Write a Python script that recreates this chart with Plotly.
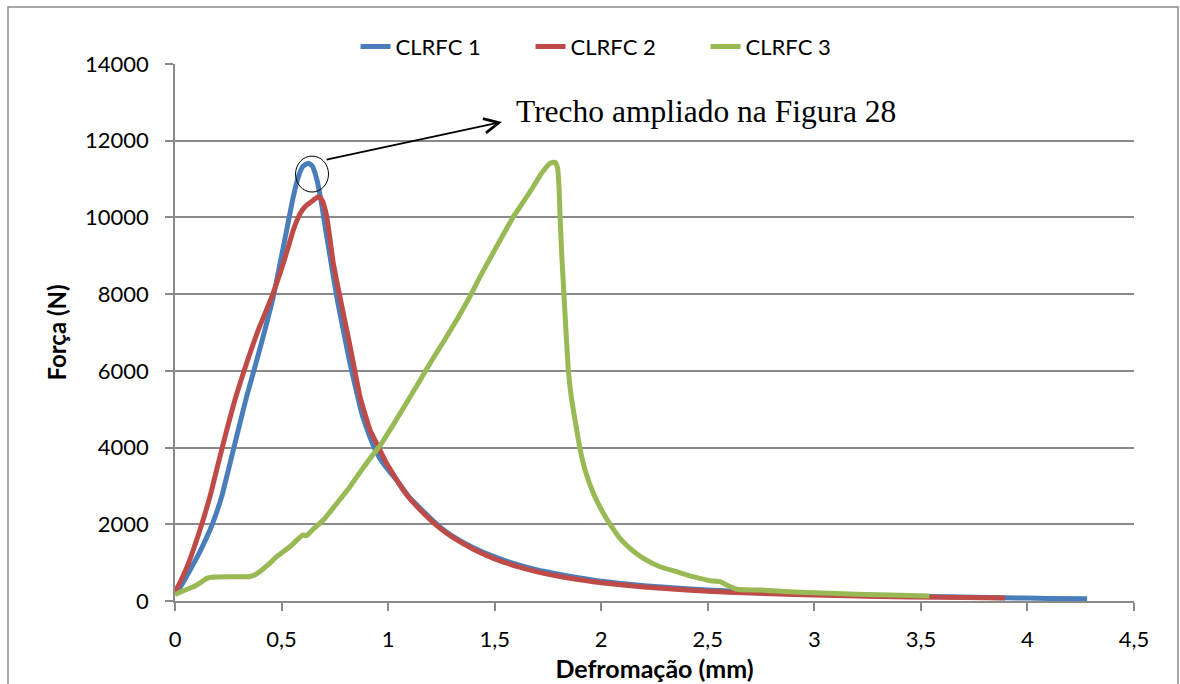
import plotly.graph_objects as go

# ---- data ----
x1 = [0, 0.016, 0.05, 0.086, 0.125, 0.164, 0.19, 0.219, 0.258, 0.297, 0.336, 0.380, 0.422, 0.461,
      0.493, 0.524, 0.555, 0.579, 0.60, 0.626, 0.645, 0.665, 0.685, 0.707, 0.733, 0.759, 0.79,
      0.821, 0.85, 0.876, 0.905, 0.931, 0.955, 0.977, 1.0, 1.05, 1.1, 1.15, 1.2, 1.25, 1.3, 1.4,
      1.5, 1.6, 1.7, 1.8, 1.9, 2.0, 2.2, 2.4, 2.6, 2.8, 3.0, 3.3, 3.6, 3.9, 4.1, 4.28]
y1 = [250, 290, 600, 960, 1380, 1850, 2230, 2720, 3590, 4460, 5330, 6200, 7070, 7930,
      8800, 9670, 10540, 11060, 11330, 11410, 11330, 11000, 10450, 9670, 8800, 7930, 7050,
      6200, 5500, 4900, 4420, 4050, 3780, 3590, 3420, 3080, 2700, 2420, 2150, 1900, 1700, 1390,
      1150, 960, 810, 700, 600, 515, 400, 320, 262, 228, 185, 140, 108, 84, 68, 58]

x2 = [0, 0.005, 0.035, 0.063, 0.09, 0.117, 0.164, 0.203, 0.243, 0.286, 0.336, 0.391, 0.454, 0.508,
      0.532, 0.555, 0.587, 0.610, 0.649, 0.673, 0.69, 0.712, 0.743, 0.775, 0.806, 0.837, 0.868,
      0.893, 0.915, 0.954, 0.993, 1.03, 1.07, 1.1, 1.15, 1.2, 1.25, 1.3, 1.4, 1.5, 1.6, 1.7, 1.8,
      1.9, 2.0, 2.2, 2.4, 2.6, 2.8, 3.0, 3.3, 3.6, 3.895]
y2 = [250, 290, 620, 980, 1400, 1850, 2720, 3590, 4460, 5330, 6200, 7070, 7930, 8800,
      9240, 9670, 10100, 10280, 10450, 10540, 10450, 10020, 8800, 7900, 7065, 6200, 5330,
      4850, 4460, 4020, 3590, 3250, 2900, 2680, 2380, 2110, 1870, 1670, 1350, 1100, 910, 760, 645,
      555, 475, 365, 285, 228, 190, 155, 120, 95, 75]

x3 = [0, 0.04, 0.086, 0.12, 0.149, 0.19, 0.25, 0.30, 0.352, 0.38, 0.399, 0.44, 0.477, 0.54, 0.600,
      0.615, 0.65, 0.696, 0.76, 0.821, 0.88, 0.946, 0.962, 1.02, 1.087, 1.14, 1.197, 1.26, 1.322,
      1.38, 1.431, 1.509, 1.588, 1.64, 1.681, 1.72, 1.76, 1.783, 1.795, 1.802, 1.807, 1.815, 1.825,
      1.835, 1.846, 1.86, 1.877, 1.90, 1.924, 1.963, 2.01, 2.049, 2.088, 2.135, 2.198, 2.276, 2.354,
      2.432, 2.51, 2.557, 2.589, 2.636, 2.745, 2.86, 3.0, 3.2, 3.4, 3.54]
y3 = [170, 270, 370, 480, 590, 625, 635, 630, 640, 700, 770, 960, 1155, 1420, 1720,
      1700, 1880, 2110, 2550, 2980, 3450, 3940, 4050, 4560, 5170, 5660, 6200, 6760, 7330,
      7900, 8450, 9240, 10020, 10450, 10800, 11150, 11410, 11440, 11300, 10800, 10000, 9000, 8000,
      7000, 6000, 5300, 4720, 3980, 3415, 2810, 2290, 1940, 1635, 1374, 1113, 894, 764,
      634, 530, 503, 417, 305, 287, 245, 212, 175, 148, 130]

names = ["CLRFC 1", "CLRFC 2", "CLRFC 3"]
colors = ["#4a7ebb", "#be4b48", "#98b954"]

x_ticks = [0, 0.5, 1, 1.5, 2, 2.5, 3, 3.5, 4, 4.5]
y_ticks = [0, 2000, 4000, 6000, 8000, 10000, 12000, 14000]

fig = go.Figure()
for xs, ys, nm, c in zip([x1, x2, x3], [y1, y2, y3], names, colors):
    fig.add_trace(go.Scatter(x=xs, y=ys, mode="lines", name=nm,
                             line=dict(color=c, width=5, shape="spline", smoothing=0.5)))

grid = "#8a8a8a"
font_ticks = dict(family="Lato, Carlito, sans-serif", size=22, color="black")

fig.update_layout(
    width=1180, height=684,
    margin=dict(l=175, r=46, t=64, b=83),
    paper_bgcolor="white", plot_bgcolor="white",
    separators=", ",
    showlegend=True,
    legend=dict(orientation="h", x=0.462, y=1.032, xanchor="center", yanchor="middle",
                font=dict(family="Lato, sans-serif", size=22, color="black"),
                bgcolor="rgba(0,0,0,0)", traceorder="normal", entrywidth=130),
    xaxis=dict(range=[0, 4.5], tickvals=x_ticks, showgrid=False, zeroline=False,
               automargin=False,
               showline=True, linecolor=grid, linewidth=1.5,
               ticks="outside", ticklen=8, tickcolor=grid, tickwidth=1.5,
               tickfont=font_ticks, ticklabelstandoff=10, fixedrange=True,
               title=dict(text="<b>Defromação (mm)</b>", standoff=9,
                          font=dict(family="Lato, sans-serif", size=25, color="black"))),
    yaxis=dict(range=[0, 14000], tickvals=y_ticks, tickformat="d", showgrid=True,
               automargin=False,
               gridcolor=grid, gridwidth=1.5, zeroline=False,
               showline=True, linecolor=grid, linewidth=1.5,
               ticks="outside", ticklen=8, tickcolor=grid, tickwidth=1.5,
               tickfont=font_ticks, ticklabelstandoff=12, fixedrange=True,
               title=dict(text="<b>Força (N)</b>", standoff=12,
                          font=dict(family="Lato, sans-serif", size=24, color="black"))),
)

# outer chart frame
fig.add_shape(type="rect", xref="paper", yref="paper",
              x0=(8 - 175) / 959, x1=(1178 - 175) / 959, y0=-0.3, y1=(601 - 7) / 537,
              line=dict(color="#8a8a8a", width=1.5), fillcolor="rgba(0,0,0,0)", layer="below")

# circle around the CLRFC 1 peak
fig.add_shape(type="circle", xref="x", yref="y", xsizemode="pixel", ysizemode="pixel",
              xanchor=0.643, yanchor=11131, x0=-16.5, x1=16.5, y0=-18, y1=18,
              line=dict(color="black", width=1))

# arrow to the note
fig.add_annotation(x=1.534, y=12487, ax=0.704, ay=11496, axref="x", ayref="y",
                   xref="x", yref="y", text="", showarrow=True, arrowhead=5,
                   arrowsize=1.6, arrowwidth=1.8, arrowcolor="black", standoff=0, startstandoff=0)
fig.add_annotation(x=1.59, y=12750, xref="x", yref="y", xanchor="left", yanchor="middle",
                   text="Trecho ampliado na Figura 28", showarrow=False,
                   font=dict(family="Liberation Serif, Times New Roman, serif", size=31.5, color="black"))

fig.write_html("out.html")
